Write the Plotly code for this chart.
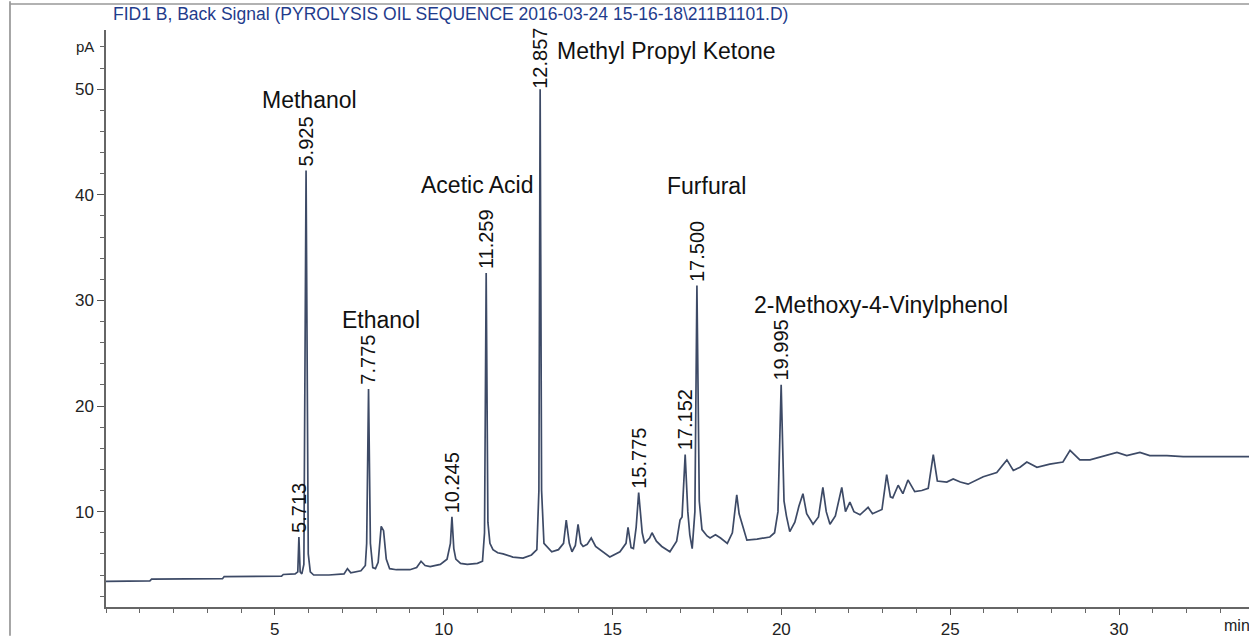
import plotly.graph_objects as go

# ---------------- data ----------------
time_min = [
    0.0, 0.6, 1.3, 1.35, 2.4, 3.45, 3.5, 4.6, 5.2, 5.25, 5.6, 5.68, 5.713, 5.75, 5.8,
    5.86, 5.925, 5.99, 6.05, 6.15, 6.6, 7.05, 7.15, 7.25, 7.55, 7.68, 7.72, 7.775, 7.83,
    7.9, 7.98, 8.06, 8.15, 8.22, 8.3, 8.4, 8.6, 9.0, 9.2, 9.33, 9.45, 9.6, 9.9, 10.1,
    10.2, 10.245, 10.3, 10.36, 10.5, 10.7, 11.0, 11.15, 11.21, 11.259, 11.31, 11.37,
    11.46, 11.6, 11.76, 12.05, 12.35, 12.6, 12.76, 12.82, 12.857, 12.9, 12.97, 13.2,
    13.4, 13.55, 13.63, 13.72, 13.8, 13.9, 13.98, 14.06, 14.13, 14.25, 14.37, 14.5,
    14.63, 14.92, 15.22, 15.4, 15.46, 15.55, 15.62, 15.7, 15.775, 15.88, 15.95, 16.1,
    16.17, 16.3, 16.46, 16.7, 16.9, 17.0, 17.06, 17.152, 17.23, 17.29, 17.36, 17.44,
    17.5, 17.57, 17.65, 17.8, 17.89, 18.05, 18.2, 18.4, 18.55, 18.68, 18.75, 18.85,
    18.98, 19.28, 19.5, 19.66, 19.8, 19.9, 19.995, 20.08, 20.15, 20.25, 20.4, 20.52,
    20.64, 20.75, 20.94, 21.1, 21.23, 21.33, 21.44, 21.6, 21.79, 21.9, 22.03, 22.15,
    22.33, 22.57, 22.7, 22.98, 23.12, 23.23, 23.3, 23.46, 23.6, 23.75, 23.95, 24.16,
    24.35, 24.5, 24.62, 24.9, 25.09, 25.3, 25.53, 25.98, 26.38, 26.55, 26.68, 26.87,
    27.07, 27.27, 27.57, 27.95, 28.34, 28.55, 28.84, 29.14, 29.52, 29.94, 30.23, 30.62,
    30.91, 31.42, 31.9, 32.9, 33.85,
]
signal_pA = [
    3.4, 3.4, 3.45, 3.6, 3.6, 3.65, 3.85, 3.85, 3.9, 4.05, 4.1, 4.3, 7.6, 4.3, 4.1,
    5.0, 42.3, 6.0, 4.3, 4.0, 4.0, 4.1, 4.6, 4.2, 4.4, 4.9, 7.0, 21.6, 7.0,
    4.7, 4.6, 5.2, 8.6, 8.2, 5.5, 4.6, 4.5, 4.5, 4.7, 5.3, 4.9, 4.8, 5.0, 5.5,
    7.0, 9.5, 6.5, 5.5, 5.1, 5.0, 5.1, 5.3, 8.0, 32.6, 9.0, 7.0,
    6.4, 6.1, 6.0, 5.7, 5.6, 5.9, 6.4, 12.0, 50.0, 12.0, 7.0, 6.2,
    6.4, 7.0, 9.2, 7.0, 6.2, 6.8, 8.8, 7.0, 6.7, 6.9, 7.5, 6.7,
    6.4, 5.7, 6.2, 7.0, 8.5, 6.6, 6.5, 8.5, 11.8, 8.0, 7.0, 7.5,
    8.0, 7.2, 6.7, 6.2, 7.2, 9.2, 9.5, 15.4, 10.0, 7.8, 6.5, 10.0,
    31.4, 11.0, 8.3, 7.7, 7.5, 7.8, 7.5, 7.0, 8.0, 11.6, 9.8, 8.6,
    7.3, 7.4, 7.5, 7.6, 8.0, 10.0, 22.0, 11.0, 9.6, 8.1, 9.0, 10.5,
    11.7, 9.8, 8.8, 9.5, 12.3, 10.0, 8.8, 9.6, 12.3, 10.0, 10.9, 10.0,
    9.7, 10.4, 9.8, 10.2, 13.5, 11.4, 11.3, 12.5, 11.7, 13.0, 11.9, 12.0,
    12.2, 15.4, 12.9, 12.8, 13.1, 12.8, 12.6, 13.3, 13.7, 14.4, 14.9, 13.9,
    14.2, 14.7, 14.2, 14.5, 14.7, 15.8, 14.9, 14.9, 15.2, 15.6, 15.3, 15.6,
    15.3, 15.3, 15.2, 15.2, 15.2,
]

peak_times = [5.713, 5.925, 7.775, 10.245, 11.259, 12.857, 15.775, 17.152, 17.500, 19.995]
peak_heights = [7.6, 42.3, 21.6, 9.5, 32.6, 50.0, 11.8, 15.4, 31.4, 22.0]
peak_labels = ["5.713", "5.925", "7.775", "10.245", "11.259", "12.857",
               "15.775", "17.152", "17.500", "19.995"]

compound_names = ["Methanol", "Ethanol", "Acetic Acid", "Methyl Propyl Ketone",
                  "Furfural", "2-Methoxy-4-Vinylphenol"]
compound_peak_index = [1, 2, 4, 5, 8, 9]

x_tick_values = [5, 10, 15, 20, 25, 30]
y_tick_values = [10, 20, 30, 40, 50]

title_text = "FID1 B, Back Signal (PYROLYSIS OIL SEQUENCE 2016-03-24 15-16-18\\211B1101.D)"

# ---------------- layout / style (pixels) ----------------
name_xshift = [3, 12, -9, 15, 10, -29]
name_yshift = [70, 69, 88, 38, 100, 80]
name_xanchor = ["center", "center", "center", "left", "center", "left"]
label_yshift = [2, 2, 2, 2, 2, -2, 2, 2, 2, 2]

FONT = "Liberation Sans, Arial, sans-serif"

fig = go.Figure()
fig.add_trace(go.Scatter(
    x=time_min, y=signal_pA, mode="lines",
    line=dict(color="#3d4a66", width=1.7),
    hoverinfo="skip", showlegend=False,
))

annotations = []
for t, h, lab, ys in zip(peak_times, peak_heights, peak_labels, label_yshift):
    annotations.append(dict(
        x=t, y=h, xref="x", yref="y", text=lab, showarrow=False,
        textangle=-90, xanchor="center", yanchor="bottom", yshift=ys,
        font=dict(family=FONT, size=20, color="#111111"),
    ))
for name, idx, xs, ys, xa in zip(compound_names, compound_peak_index,
                                  name_xshift, name_yshift, name_xanchor):
    annotations.append(dict(
        x=peak_times[idx], y=peak_heights[idx], xref="x", yref="y",
        text=name, showarrow=False, xanchor=xa, yanchor="middle",
        xshift=xs, yshift=ys,
        font=dict(family=FONT, size=23, color="#111111"),
    ))

annotations.append(dict(
    x=0.0044, y=1.0, xref="paper", yref="paper", text=title_text,
    showarrow=False, xanchor="left", yanchor="middle", yshift=16,
    font=dict(family=FONT, size=17.5, color="#1f3c8c"),
))
annotations.append(dict(
    x=0, y=54, xref="paper", yref="y", text="pA", showarrow=False,
    xanchor="right", yanchor="middle", xshift=-10,
    font=dict(family=FONT, size=15, color="#222222"),
))
annotations.append(dict(
    x=33.05, y=0, xref="x", yref="paper", text="min", showarrow=False,
    xanchor="left", yanchor="top", yshift=-8,
    font=dict(family=FONT, size=16, color="#222222"),
))

shapes = [
    dict(type="line", xref="paper", yref="paper", x0=-0.084, x1=-0.084, y0=-0.05, y1=1.05,
         line=dict(color="#888888", width=1.5)),
    dict(type="line", xref="paper", yref="paper", x0=-0.084, x1=1.0, y0=1.045, y1=1.045,
         line=dict(color="#999999", width=1.5)),
]

fig.update_layout(
    width=1249, height=639, autosize=False,
    margin=dict(l=106, r=0, t=30, b=28),
    paper_bgcolor="white", plot_bgcolor="white",
    annotations=annotations, shapes=shapes,
    showlegend=False,
)
fig.update_xaxes(
    range=[0, 33.85], tickvals=x_tick_values, ticks="outside", ticklen=6,
    tickwidth=1.2, tickcolor="#555555", showline=True, linecolor="#666666",
    linewidth=1.5, showgrid=False, zeroline=False,
    tickfont=dict(family=FONT, size=17, color="#222222"),
    minor=dict(dtick=1, tick0=0, ticks="outside", ticklen=4, tickcolor="#666666",
               showgrid=False),
)
fig.update_yaxes(
    range=[0.97, 55.6], tickvals=y_tick_values, ticks="outside", ticklen=7,
    tickwidth=1.2, tickcolor="#555555", showline=True, linecolor="#666666",
    linewidth=1.5, showgrid=False, zeroline=False,
    tickfont=dict(family=FONT, size=17, color="#222222"),
    minor=dict(dtick=2, tick0=0, ticks="outside", ticklen=4, tickcolor="#666666",
               showgrid=False),
)

fig.write_html("out.html", config={"displayModeBar": False},
               post_script="document.body.style.margin='0px';document.body.style.overflow='hidden';")
